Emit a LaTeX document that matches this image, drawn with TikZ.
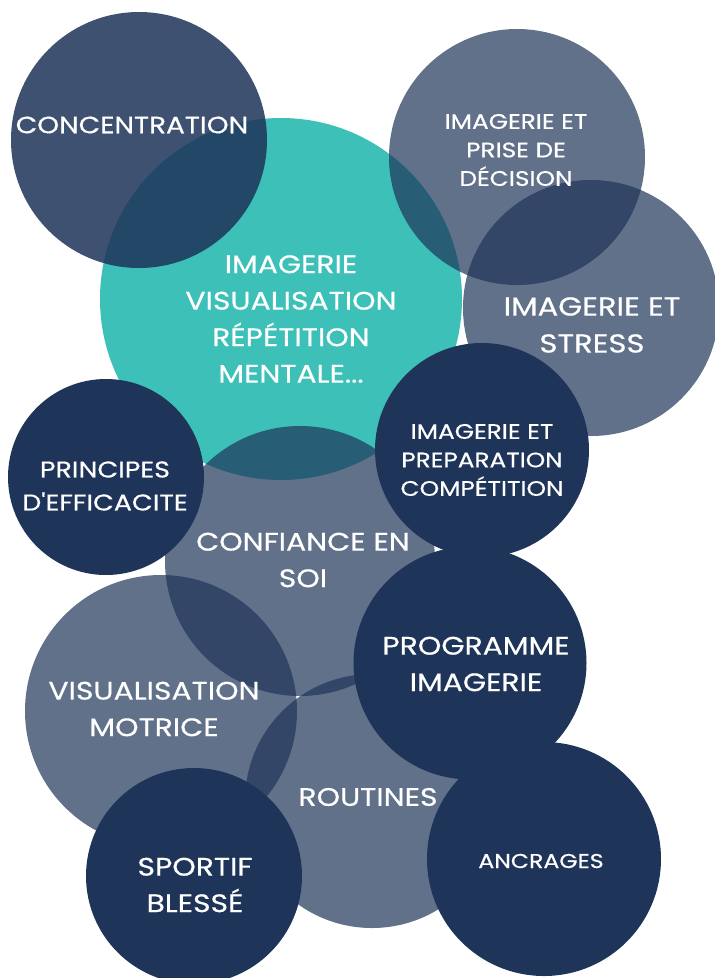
\documentclass[tikz,border=0pt]{standalone}
\usepackage{fontspec}
\setmainfont{Poppins}[Ligatures=TeXOff]
\newfontface\lblfont{Poppins}[FakeStretch=1.18, FakeBold=0.5, Ligatures=TeXOff]
\definecolor{navy}{HTML}{1F3459}
\definecolor{teal}{HTML}{3CC0B8}
\tikzset{
  bubble/.style={circle, inner sep=0pt, minimum size=#1},
  soft/.style={fill=navy, fill opacity=0.7},
  softer/.style={fill=navy, fill opacity=0.86},
  solid/.style={fill=navy},
  lbl/.style={text=white, align=center, inner sep=0pt},
  big/.style={lbl, font=\lblfont\fontsize{25.3}{36.5}\selectfont},
  mid/.style={lbl, font=\lblfont\fontsize{22.8}{33}\selectfont},
  small/.style={lbl, font=\lblfont\fontsize{21}{28.5}\selectfont},
}
\begin{document}
\begin{tikzpicture}[x=1pt,y=-1pt]
\useasboundingbox (0,0) rectangle (715,978);
% circles
\node[bubble=362pt, fill=teal] (cteal) at (281,299) {};
\node[bubble=256pt, softer] (cconc) at (139,140) {};
\node[bubble=256pt, soft] (cdec) at (517,157) {};
\node[bubble=256pt, soft] (cstress) at (591,308) {};
\node[bubble=270pt, soft] (cconf) at (300,561) {};
\node[bubble=272pt, soft] (cvis) at (161,711) {};
\node[bubble=254pt, soft] (crout) at (372,801) {};
\node[bubble=196pt, solid] (cprin) at (106,477) {};
\node[bubble=214pt, solid] (cprep) at (482,450) {};
\node[bubble=233pt, solid] (cprog) at (470,663) {};
\node[bubble=216pt, solid] (csport) at (194,876) {};
\node[bubble=234pt, solid] (cancr) at (544,859) {};
% labels
\node[lbl, font=\lblfont\fontsize{23.6}{36}\selectfont] (tconc) at (132,125) {CONCENTRATION};
\node[big] (tteal) at (291,319) {IMAGERIE\\VISUALISATION\\RÉPÉTITION\\MENTALE...};
\node[small] (tdec) at (516,150) {IMAGERIE ET\\PRISE DE\\DÉCISION};
\node[lbl, font=\lblfont\fontsize{26}{37}\selectfont] (tstress) at (592,325) {IMAGERIE ET\\STRESS};
\node[small] (tprep) at (482,460) {IMAGERIE ET\\PREPARATION\\COMPÉTITION};
\node[mid] (tprin) at (105,486) {PRINCIPES\\D'EFFICACITE};
\node[big] (tconf) at (303,560) {CONFIANCE EN\\SOI};
\node[big] (tprog) at (476,664) {PROGRAMME\\IMAGERIE};
\node[big] (tvis) at (154,709) {VISUALISATION\\MOTRICE};
\node[big] (trout) at (368,797) {ROUTINES};
\node[big] (tsport) at (195,885) {SPORTIF\\BLESSÉ};
\node[lbl, font=\lblfont\fontsize{20}{28}\selectfont] (tancr) at (541,861) {ANCRAGES};
\end{tikzpicture}
\end{document}
